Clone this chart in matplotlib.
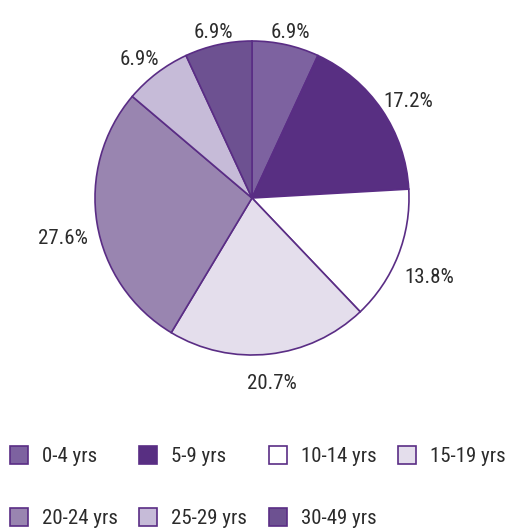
#!/usr/bin/env python3
"""
Age group pie chart with a square-marker legend underneath
"""

import numpy as np
import matplotlib
matplotlib.use('Agg')
import matplotlib.pyplot as plt
from matplotlib.patches import Rectangle

plt.rcParams['font.family'] = ['Roboto Condensed', 'DejaVu Sans']

# Data
age_groups = ['0-4 yrs', '5-9 yrs', '10-14 yrs', '15-19 yrs',
              '20-24 yrs', '25-29 yrs', '30-49 yrs']
shares = [6.9, 17.2, 13.8, 20.7, 27.6, 6.9, 6.9]
colors = ['#7d62a0', '#582f82', '#ffffff', '#e4deec',
          '#9985b0', '#c6bbd8', '#6d5191']
edge = '#5a2d85'
text_col = '#2b2b2b'
fs = 15

fig = plt.figure(figsize=(5.09, 5.30), dpi=100)

# Pie axes: centre ~ (252, 198) px, radius ~157 px
r_px = 157
cx, cy = 252, 198
W, H = 509, 530
ax = fig.add_axes([(cx - r_px) / W, (H - cy - r_px) / H, 2 * r_px / W, 2 * r_px / H])

wedges, _ = ax.pie(shares, colors=colors, startangle=90, counterclock=False,
                   radius=1.0, wedgeprops=dict(edgecolor=edge, linewidth=1.2))
ax.set_xlim(-1, 1)
ax.set_ylim(-1, 1)
ax.set_aspect('equal')
ax.axis('off')

# Percentage labels outside each wedge
for w, val in zip(wedges, shares):
    theta = np.deg2rad((w.theta1 + w.theta2) / 2)
    c, s = np.cos(theta), np.sin(theta)
    d = 1.12 + 0.1 * abs(c)
    ax.text(d * c, d * s - 0.06, f'{val:.1f}%', ha='center', va='center',
            fontsize=fs, color=text_col, clip_on=False)

# Legend drawn manually, row-major, 4 columns
sq = 18
col_x = [10, 139, 269, 398]
row_y = [446, 508]
for i, (lab, col) in enumerate(zip(age_groups, colors)):
    r, c = divmod(i, 4)
    x0 = col_x[c]
    y0 = row_y[r]
    fig.patches.append(Rectangle((x0 / W, (H - y0 - sq) / H), sq / W, sq / H,
                                 facecolor=col, edgecolor=edge, linewidth=1.2,
                                 transform=fig.transFigure))
    fig.text((x0 + 32) / W, (H - y0 - sq / 2) / H, lab, ha='left', va='center_baseline',
             fontsize=fs, color=text_col)

plt.savefig('out.png', dpi=100)
plt.close()
